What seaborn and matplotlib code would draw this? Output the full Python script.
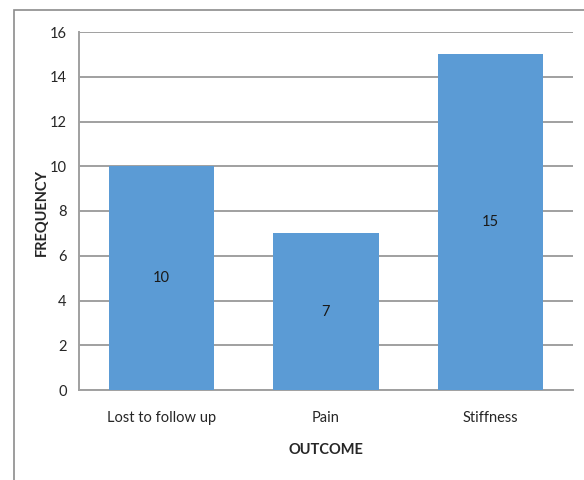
import matplotlib
matplotlib.use("Agg")
import matplotlib.pyplot as plt
import seaborn as sns
import pandas as pd
from matplotlib.patches import Rectangle

outcomes = ["Lost to follow up", "Pain", "Stiffness"]
frequency = [10, 7, 15]
y_ticks = [0, 2, 4, 6, 8, 10, 12, 14, 16]

sns.set_style("white")
plt.rcParams["font.family"] = ["Lato", "DejaVu Sans"]

df = pd.DataFrame({"OUTCOME": outcomes, "FREQUENCY": frequency})

fig = plt.figure(figsize=(5.84, 4.8), dpi=100)
ax = fig.add_axes([79 / 584, 1 - 390 / 480, (573 - 79) / 584, (390 - 32) / 480])

# outer frame of the chart area
fig.patches.append(Rectangle((14 / 584, -0.1), 1.2, 1 - 10 / 480 + 0.1,
                             transform=fig.transFigure, fill=False,
                             edgecolor="#8c8c8c", linewidth=1.2))

sns.barplot(data=df, x="OUTCOME", y="FREQUENCY", color="#5B9BD5",
            width=0.64, saturation=1, linewidth=0, ax=ax, zorder=3)

ax.set_ylim(0, 16)
ax.set_yticks(y_ticks)
ax.set_xlim(-0.5, 2.5)
ax.yaxis.grid(True, color="#a0a0a0", linewidth=1.4, zorder=0)
ax.set_axisbelow(True)
for s in ["top", "right"]:
    ax.spines[s].set_visible(False)
for s in ["left", "bottom"]:
    ax.spines[s].set_color("#a0a0a0")
    ax.spines[s].set_linewidth(1.4)

ax.tick_params(axis="y", length=0, pad=9, labelsize=10.5, labelcolor="#262626")
ax.tick_params(axis="x", length=0, pad=15, labelsize=10.5, labelcolor="#262626")

for i, v in enumerate(frequency):
    ax.text(i, v / 2, str(v), ha="center", va="center", fontsize=10.5, color="#1a1a1a", zorder=4)

ax.set_xlabel("OUTCOME", fontsize=10.5, fontweight="bold", labelpad=13)
ax.set_ylabel("")
fig.text(42 / 584, 1 - 212 / 480, "FREQUENCY", rotation=90, ha="center", va="center",
         fontsize=10.5, fontweight="bold", color="#262626")

fig.savefig("out.png", dpi=100)
